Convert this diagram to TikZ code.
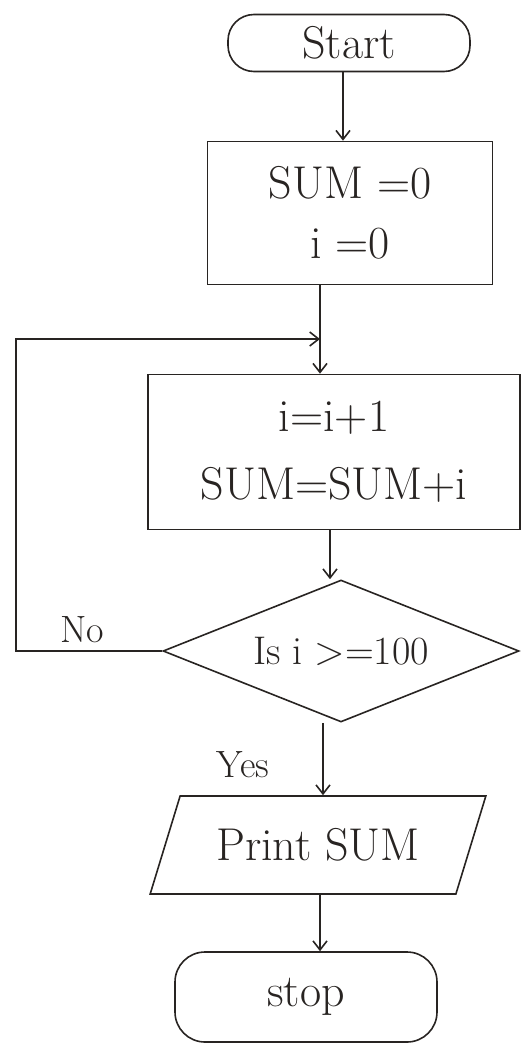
\documentclass[tikz,border=0pt]{standalone}
\usepackage{fontspec}
\usepackage{xcolor}
\usepackage{tikz}
\usetikzlibrary{arrows.meta, positioning, calc, shapes.geometric}
\definecolor{ink}{RGB}{40,36,34}

\tikzset{
  flow/.style={draw=ink, line width=1.6pt, text=ink, font=\fontsize{46}{50}\selectfont, align=center},
  term/.style={flow, rectangle, rounded corners=26pt},
  proc/.style={flow, rectangle},
  decide/.style={flow, diamond, aspect=2.5, inner sep=0pt, font=\fontsize{40}{46}\selectfont},
  io/.style={flow, trapezium, trapezium left angle=60, trapezium right angle=120, trapezium stretches},
  arr/.style={draw=ink, line width=1.6pt, -{Straight Barb[length=9pt, width=14pt]}},
  lbl/.style={text=ink, font=\fontsize{38}{44}\selectfont}
}

\begin{document}
\begin{tikzpicture}[x=1pt, y=-1pt]
\useasboundingbox (0,0) rectangle (525,1047);
% Nodes
\node[term, minimum width=242pt, minimum height=57pt] (start) at (349,43) {Start};
\node[proc, minimum width=285pt, minimum height=143pt] (init) at (350,213) {SUM =0\\[10pt] i =0};
\node[proc, minimum width=372pt, minimum height=155pt] (body) at (334,452) {i=i+1\\[18pt] SUM=SUM+i};
\node[decide, minimum width=356pt, minimum height=142pt] (test) at (341,651) {Is i >=100};
\node[io, minimum width=337pt, minimum height=98pt] (out) at (318,845) {Print SUM};
\node[term, minimum width=262pt, minimum height=90pt, rounded corners=30pt] (stop) at (306,997) {stop};
% Labels
\node[lbl] (nolbl) at (82,630) {No};
\node[lbl] (yeslbl) at (243,765) {Yes};
% Guide columns for the hand-drawn arrows
\coordinate (ca) at (343,0);
\coordinate (cb) at (330,0);
\coordinate (cc) at (323,0);
\coordinate (cd) at (320,0);
\coordinate (lx) at (16,0);
% Junction of the loop
\coordinate (join) at (320,339);
% Connectors
\draw[arr] (start.south -| ca) -- (init.north -| ca);
\draw[line width=1.6pt, draw=ink] (init.south -| join) -- (join);
\draw[arr] (join) -- (body.north -| join);
\draw[arr] (body.south -| cb) -- (test.north -| cb);
\draw[arr] (test.west) -- (test.west -| lx) -- (join -| lx) -- (join);
\draw[arr] (test.south -| cc) -- (out.north -| cc);
\draw[arr] (out.south -| cd) -- (stop.north -| cd);
\end{tikzpicture}
\end{document}
